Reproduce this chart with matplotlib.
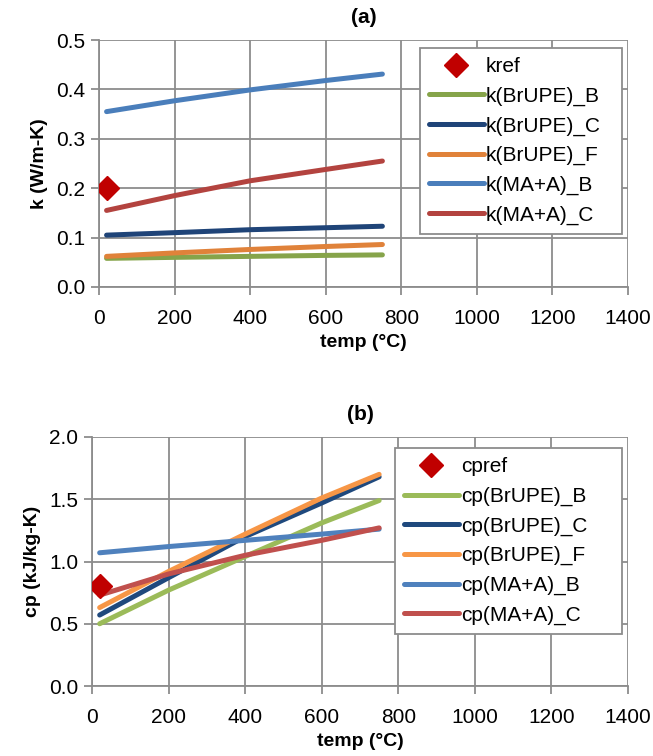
import matplotlib
matplotlib.use('Agg')
import matplotlib.pyplot as plt

plt.rcParams['font.family'] = ['Liberation Sans Narrow', 'DejaVu Sans Condensed', 'Liberation Sans']

# temperatures (°C)
temp = [20, 200, 400, 600, 750]

# (a) thermal conductivity, W/m-K
k_ref_t, k_ref = [20], [0.20]
k_brupe_b = [0.058, 0.060, 0.062, 0.064, 0.065]
k_brupe_c = [0.105, 0.110, 0.116, 0.120, 0.123]
k_brupe_f = [0.062, 0.069, 0.076, 0.082, 0.086]
k_maa_b = [0.355, 0.377, 0.399, 0.418, 0.431]
k_maa_c = [0.155, 0.185, 0.215, 0.238, 0.255]

# (b) specific heat, kJ/kg-K
cp_ref_t, cp_ref = [20], [0.80]
cp_brupe_b = [0.50, 0.77, 1.04, 1.31, 1.49]
cp_brupe_c = [0.57, 0.87, 1.20, 1.47, 1.68]
cp_brupe_f = [0.63, 0.92, 1.22, 1.51, 1.70]
cp_maa_b = [1.07, 1.12, 1.17, 1.22, 1.26]
cp_maa_c = [0.73, 0.90, 1.05, 1.17, 1.27]

cols_a = ['#86A44A', '#1F4478', '#E0823A', '#4A7EBB', '#B3433F']
cols_b = ['#9BBB59', '#1F497D', '#F79646', '#4F81BD', '#C0504D']
grid_c = '#8C8C8C'

fig = plt.figure(figsize=(6.53, 7.56), dpi=100)
fig.patch.set_facecolor('white')

ax1 = fig.add_axes([99/653, 1-287/756, 529/653, 247/756])
ax2 = fig.add_axes([92/653, 1-686/756, 536/653, 249/756])


def style(ax, ymax, ystep, fmt):
    ax.set_xlim(0, 1400)
    ax.set_ylim(0, ymax)
    ax.set_xticks(range(0, 1401, 200))
    n = int(round(ymax / ystep))
    ax.set_yticks([i * ystep for i in range(n + 1)])
    ax.set_yticklabels([fmt % (i * ystep) for i in range(n + 1)])
    ax.grid(True, color=grid_c, linewidth=1.3)
    ax.set_axisbelow(True)
    for s in ['top', 'right']:
        ax.spines[s].set_visible(False)
    for s in ['left', 'bottom']:
        ax.spines[s].set_color(grid_c)
        ax.spines[s].set_linewidth(1.3)
    ax.tick_params(direction='out', length=6, width=1.3, color=grid_c,
                   labelsize=15, pad=4)
    ax.tick_params(axis='x', pad=10)


style(ax1, 0.5, 0.1, '%.1f')
style(ax2, 2.0, 0.5, '%.1f')

ax1.plot(k_ref_t, k_ref, 'D', color='#C00000', markersize=12, linestyle='none',
         label='kref', zorder=5)
names_a = ['k(BrUPE)_B', 'k(BrUPE)_C', 'k(BrUPE)_F', 'k(MA+A)_B', 'k(MA+A)_C']
for ys, c, n in zip([k_brupe_b, k_brupe_c, k_brupe_f, k_maa_b, k_maa_c], cols_a, names_a):
    ax1.plot(temp, ys, color=c, linewidth=3.6, solid_capstyle='round', label=n)

ax2.plot(cp_ref_t, cp_ref, 'D', color='#C00000', markersize=12, linestyle='none',
         label='cpref', zorder=5)
names_b = ['cp(BrUPE)_B', 'cp(BrUPE)_C', 'cp(BrUPE)_F', 'cp(MA+A)_B', 'cp(MA+A)_C']
for ys, c, n in zip([cp_brupe_b, cp_brupe_c, cp_brupe_f, cp_maa_b, cp_maa_c], cols_b, names_b):
    ax2.plot(temp, ys, color=c, linewidth=3.6, solid_capstyle='round', label=n)

ax1.set_title('(a)', fontsize=15, fontweight='bold', pad=12)
ax2.set_title('(b)', fontsize=15, fontweight='bold', pad=12)
ax1.set_xlabel('temp (°C)', fontsize=14, fontweight='bold', labelpad=4)
ax2.set_xlabel('temp (°C)', fontsize=14, fontweight='bold', labelpad=4)
ax1.set_ylabel('k (W/m-K)', fontsize=14, fontweight='bold', labelpad=6)
ax2.set_ylabel('cp (kJ/kg-K)', fontsize=14, fontweight='bold', labelpad=6)

for ax, box in [(ax1, (420, 48, 622, 245)), (ax2, (395, 448, 622, 630))]:
    x0, y0, x1, y1 = box
    leg = ax.legend(loc='upper left',
                    bbox_to_anchor=(x0/653, 1-y1/756, (x1-x0)/653, (y1-y0)/756),
                    bbox_transform=fig.transFigure, mode='expand',
                    fontsize=15, frameon=True, fancybox=False, framealpha=1,
                    edgecolor='#8C8C8C', handlelength=2.6, handletextpad=0.1,
                    labelspacing=0.5, borderpad=0.45, borderaxespad=0)
    leg.get_frame().set_linewidth(1.3)

fig.savefig('out.png', dpi=100)
